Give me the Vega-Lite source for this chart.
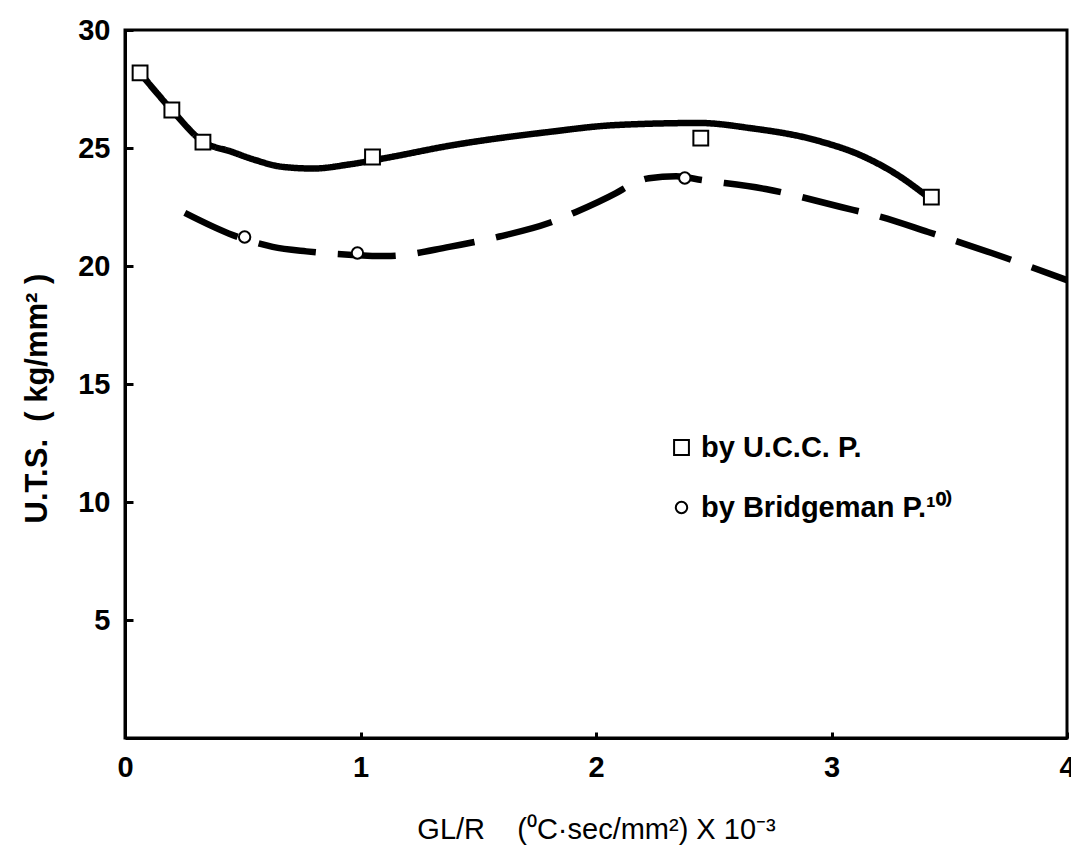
{
  "$schema": "https://vega.github.io/schema/vega-lite/v6.json",
  "width": 942,
  "height": 708,
  "autosize": {"type": "none"},
  "padding": {"left": 125, "top": 30, "right": 4, "bottom": 121},
  "background": "white",
  "config": {"view": {"stroke": "black", "strokeWidth": 3}, "font": "Liberation Sans"},
  "datasets": {
    "curves": [
      {"series": "UCC", "x": 0.064, "y": 28.18},
      {"series": "UCC", "x": 0.199, "y": 26.61},
      {"series": "UCC", "x": 0.331, "y": 25.27},
      {"series": "UCC", "x": 0.45, "y": 24.85},
      {"series": "UCC", "x": 0.55, "y": 24.5},
      {"series": "UCC", "x": 0.67, "y": 24.2},
      {"series": "UCC", "x": 0.8, "y": 24.13},
      {"series": "UCC", "x": 0.95, "y": 24.3},
      {"series": "UCC", "x": 1.12, "y": 24.6},
      {"series": "UCC", "x": 1.38, "y": 25.1},
      {"series": "UCC", "x": 1.8, "y": 25.68},
      {"series": "UCC", "x": 2.08, "y": 25.97},
      {"series": "UCC", "x": 2.44, "y": 26.06},
      {"series": "UCC", "x": 2.65, "y": 25.85},
      {"series": "UCC", "x": 2.93, "y": 25.34},
      {"series": "UCC", "x": 3.14, "y": 24.62},
      {"series": "UCC", "x": 3.28, "y": 23.86},
      {"series": "UCC", "x": 3.4, "y": 23.0},
      {"series": "Bridgeman", "x": 0.254, "y": 22.25},
      {"series": "Bridgeman", "x": 0.458, "y": 21.31},
      {"series": "Bridgeman", "x": 0.627, "y": 20.81},
      {"series": "Bridgeman", "x": 0.77, "y": 20.62},
      {"series": "Bridgeman", "x": 0.966, "y": 20.47},
      {"series": "Bridgeman", "x": 1.11, "y": 20.42},
      {"series": "Bridgeman", "x": 1.377, "y": 20.81},
      {"series": "Bridgeman", "x": 1.59, "y": 21.25},
      {"series": "Bridgeman", "x": 1.8, "y": 21.82},
      {"series": "Bridgeman", "x": 1.915, "y": 22.29},
      {"series": "Bridgeman", "x": 2.085, "y": 23.09},
      {"series": "Bridgeman", "x": 2.15, "y": 23.45},
      {"series": "Bridgeman", "x": 2.225, "y": 23.72},
      {"series": "Bridgeman", "x": 2.34, "y": 23.8},
      {"series": "Bridgeman", "x": 2.45, "y": 23.64},
      {"series": "Bridgeman", "x": 2.72, "y": 23.26},
      {"series": "Bridgeman", "x": 3.04, "y": 22.5},
      {"series": "Bridgeman", "x": 3.21, "y": 22.08},
      {"series": "Bridgeman", "x": 3.41, "y": 21.44},
      {"series": "Bridgeman", "x": 3.68, "y": 20.55},
      {"series": "Bridgeman", "x": 4.0, "y": 19.4}
    ],
    "points": [
      {"series": "by U.C.C. P.", "x": 0.064, "y": 28.18},
      {"series": "by U.C.C. P.", "x": 0.199, "y": 26.61},
      {"series": "by U.C.C. P.", "x": 0.331, "y": 25.25},
      {"series": "by U.C.C. P.", "x": 1.051, "y": 24.62},
      {"series": "by U.C.C. P.", "x": 2.445, "y": 25.42},
      {"series": "by U.C.C. P.", "x": 3.424, "y": 22.92},
      {"series": "by Bridgeman P.¹⁰⁾", "x": 0.508, "y": 21.23},
      {"series": "by Bridgeman P.¹⁰⁾", "x": 0.987, "y": 20.55},
      {"series": "by Bridgeman P.¹⁰⁾", "x": 2.377, "y": 23.73}
    ]
  },
  "encoding": {
    "x": {
      "field": "x", "type": "quantitative",
      "scale": {"domain": [0, 4], "nice": false, "zero": false},
      "axis": {
        "values": [0, 1, 2, 3, 4], "grid": false, "labelFlush": false,
        "domainColor": "black", "domainWidth": 3,
        "tickColor": "black", "tickWidth": 3, "tickSize": -6,
        "labelColor": "black", "labelFont": "Liberation Sans", "labelFontWeight": "bold", "labelFontSize": 29, "labelPadding": 21,
        "title": "GL/R\u00a0\u00a0\u00a0\u00a0(⁰C·sec/mm²)\u00a0X\u00a010⁻³", "titleColor": "black", "titleFont": "Liberation Sans", "titleFontWeight": "normal", "titleFontSize": 29, "titlePadding": 33
      }
    },
    "y": {
      "field": "y", "type": "quantitative",
      "scale": {"domain": [0, 30], "nice": false, "zero": false},
      "axis": {
        "values": [5, 10, 15, 20, 25, 30], "grid": false,
        "domainColor": "black", "domainWidth": 3,
        "tickColor": "black", "tickWidth": 3, "tickSize": -8,
        "labelColor": "black", "labelFont": "Liberation Sans", "labelFontWeight": "bold", "labelFontSize": 29, "labelPadding": 23,
        "title": "U.T.S.\u00a0\u00a0(\u00a0kg/mm²\u00a0)", "titleColor": "black", "titleFont": "Liberation Sans", "titleFontWeight": "bold", "titleFontSize": 31, "titlePadding": 24, "titleY": 368
      }
    }
  },
  "layer": [
    {
      "data": {"name": "curves"},
      "mark": {"type": "line", "interpolate": "monotone", "strokeWidth": 6.5, "color": "black", "strokeCap": "butt"},
      "encoding": {
        "detail": {"field": "series"},
        "strokeDash": {"field": "series", "type": "nominal", "scale": {"domain": ["UCC", "Bridgeman"], "range": [[1, 0], [58, 22]]}, "legend": null}
      }
    },
    {
      "data": {"name": "points"},
      "mark": {"type": "point", "filled": false, "fill": "white", "fillOpacity": 1, "stroke": "black", "strokeWidth": 2, "opacity": 1},
      "encoding": {
        "shape": {
          "field": "series", "type": "nominal",
          "scale": {"domain": ["by U.C.C. P.", "by Bridgeman P.¹⁰⁾"], "range": ["square", "circle"]},
          "legend": {
            "title": null, "orient": "none", "legendX": 542, "legendY": 403, "padding": 0,
            "symbolStrokeColor": "black", "symbolFillColor": "white", "symbolStrokeWidth": 2,
            "labelFont": "Liberation Sans", "labelFontWeight": "bold", "labelFontSize": 29, "labelColor": "black", "labelLimit": 500,
            "rowPadding": 30, "labelOffset": 5
          }
        },
        "size": {"field": "series", "type": "nominal", "scale": {"domain": ["by U.C.C. P.", "by Bridgeman P.¹⁰⁾"], "range": [220, 130]}}
      }
    }
  ]
}
